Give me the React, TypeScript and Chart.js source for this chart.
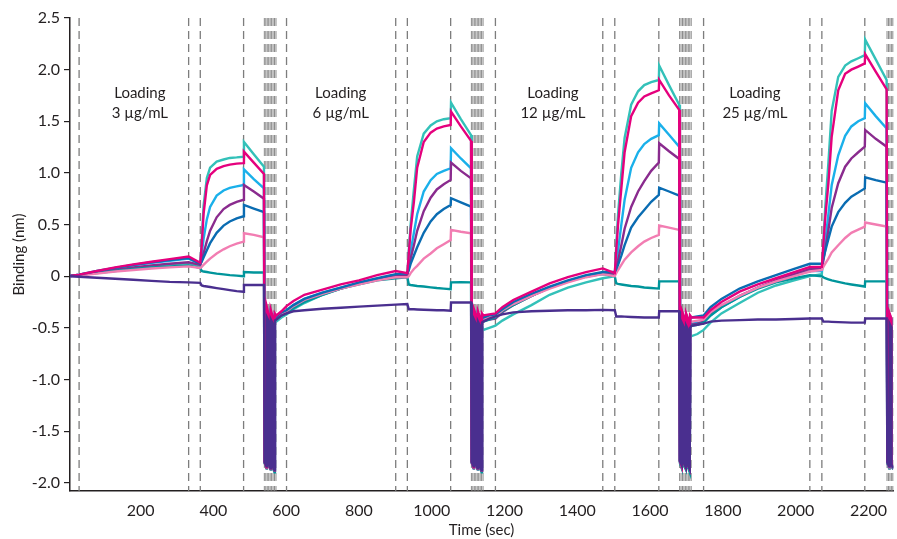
import React, { useEffect, useRef } from 'react';
import { Chart, registerables } from 'chart.js';
Chart.register(...registerables);

// Shared time axis (sec): per cycle = loading(8), baseline end(1), association(9), dissociation(3), regeneration(12), post-regen(1)
const TIME = [
  0, 31, 80, 130, 180, 230, 280, 332, 364, 368, 373, 382, 391, 409, 428, 445, 464, 483, 484, 511, 539,
  541, 546, 547, 551, 552, 557, 558, 562, 563, 568, 569, 573, 587,
  601, 620, 650, 700, 750, 800, 850, 901, 933, 937, 942, 951, 960, 978, 997, 1014, 1033, 1052, 1053, 1080, 1108,
  1110, 1115, 1116, 1120, 1121, 1126, 1127, 1131, 1132, 1137, 1138, 1142, 1158,
  1175, 1194, 1224, 1274, 1324, 1374, 1424, 1470, 1503, 1507, 1512, 1521, 1530, 1548, 1567, 1584, 1603, 1624, 1625, 1652, 1680,
  1682, 1687, 1688, 1692, 1693, 1698, 1699, 1703, 1704, 1709, 1710, 1714, 1730,
  1747, 1766, 1796, 1846, 1896, 1946, 1996, 2039, 2072, 2076, 2081, 2090, 2099, 2117, 2136, 2153, 2172, 2190, 2191, 2220, 2250,
  2252, 2257, 2258, 2262, 2263, 2268,
];

const TURQUOISE = [
  0, 0.01, 0.035, 0.06, 0.08, 0.1, 0.115, 0.125, 0.1,
  0.35, 0.68, 0.95, 1.05, 1.11, 1.13, 1.145, 1.15, 1.157, 1.3, 1.18, 1.06,
  -1.8, -1.84, -0.38, -0.42, -1.81, -1.85, -0.4, -0.44, -1.83, -1.87, -0.42, -0.44, -0.4,
  -0.37, -0.32, -0.26, -0.18, -0.12, -0.07, -0.035, -0.01, 0.0,
  0.25, 0.5, 0.84, 1.16, 1.38, 1.46, 1.5, 1.52, 1.53, 1.68, 1.52, 1.367,
  -1.79, -1.84, -0.4, -0.46, -1.81, -1.86, -0.44, -0.5, -1.83, -1.88, -0.48, -0.52, -0.5,
  -0.48, -0.43, -0.37, -0.28, -0.18, -0.11, -0.06, -0.02, 0.0,
  0.3, 0.6, 1.0, 1.34, 1.66, 1.79, 1.85, 1.88, 1.9, 2.04, 1.85, 1.66,
  -1.78, -1.83, -0.48, -0.54, -1.8, -1.85, -0.52, -0.58, -1.82, -1.87, -0.56, -0.58, -0.56,
  -0.52, -0.45, -0.36, -0.26, -0.16, -0.09, -0.04, 0.0, 0.02,
  0.3, 0.65, 1.1, 1.6, 1.93, 2.04, 2.08, 2.11, 2.14, 2.29, 2.1, 1.9,
  -1.78, -1.84, -0.52, -0.56, -1.8, -1.86,
];

const MAGENTA = [
  0, 0.015, 0.05, 0.085, 0.115, 0.14, 0.165, 0.19, 0.13,
  0.3, 0.6, 0.88, 0.98, 1.04, 1.065, 1.08, 1.09, 1.095, 1.206, 1.1, 0.99,
  -1.8, -1.85, -0.3, -0.36, -1.82, -1.86, -0.33, -0.38, -1.84, -1.88, -0.36, -0.38, -0.34,
  -0.29, -0.24, -0.18, -0.13, -0.08, -0.04, 0.01, 0.05, 0.03,
  0.22, 0.45, 0.72, 1.05, 1.3, 1.39, 1.43, 1.45, 1.464, 1.593, 1.45, 1.31,
  -1.8, -1.85, -0.32, -0.36, -1.82, -1.86, -0.34, -0.38, -1.84, -1.88, -0.36, -0.38, -0.37,
  -0.36, -0.3, -0.23, -0.15, -0.07, -0.01, 0.04, 0.075, 0.03,
  0.25, 0.5, 0.85, 1.2, 1.55, 1.68, 1.74, 1.77, 1.8, 1.9, 1.75, 1.61,
  -1.79, -1.84, -0.34, -0.38, -1.81, -1.85, -0.36, -0.4, -1.83, -1.87, -0.38, -0.4, -0.4,
  -0.4, -0.33, -0.25, -0.15, -0.08, -0.02, 0.04, 0.09, 0.09,
  0.3, 0.55, 0.9, 1.35, 1.8, 1.96, 2.0, 2.03, 2.06, 2.15, 1.98, 1.81,
  -1.79, -1.84, -0.36, -0.4, -1.81, -1.85,
];

const LIGHT_BLUE = [
  0, 0.015, 0.045, 0.075, 0.105, 0.13, 0.15, 0.17, 0.12,
  0.22, 0.36, 0.55, 0.67, 0.78, 0.83, 0.855, 0.87, 0.883, 1.035, 0.94, 0.85,
  -1.81, -1.85, -0.34, -0.38, -1.83, -1.86, -0.36, -0.4, -1.84, -1.88, -0.38, -0.4, -0.37,
  -0.33, -0.28, -0.22, -0.16, -0.11, -0.07, -0.03, 0.01, 0.02,
  0.12, 0.24, 0.42, 0.6, 0.82, 0.93, 0.99, 1.02, 1.045, 1.24, 1.14, 1.045,
  -1.8, -1.85, -0.36, -0.4, -1.82, -1.86, -0.38, -0.42, -1.84, -1.88, -0.4, -0.42, -0.41,
  -0.4, -0.34, -0.27, -0.19, -0.11, -0.05, 0.0, 0.03, 0.02,
  0.12, 0.25, 0.5, 0.74, 1.05, 1.2, 1.28, 1.33, 1.366, 1.48, 1.37, 1.254,
  -1.79, -1.84, -0.4, -0.44, -1.81, -1.85, -0.42, -0.46, -1.83, -1.87, -0.44, -0.46, -0.45,
  -0.45, -0.38, -0.3, -0.2, -0.11, -0.05, 0.01, 0.05, 0.05,
  0.18, 0.32, 0.6, 0.88, 1.17, 1.36, 1.45, 1.5, 1.53, 1.674, 1.55, 1.43,
  -1.8, -1.85, -0.42, -0.46, -1.82, -1.86,
];

const PURPLE = [
  0, 0.01, 0.035, 0.06, 0.085, 0.105, 0.12, 0.135, 0.11,
  0.15, 0.22, 0.34, 0.44, 0.57, 0.65, 0.69, 0.72, 0.74, 0.883, 0.82, 0.75,
  -1.81, -1.86, -0.35, -0.39, -1.83, -1.87, -0.37, -0.41, -1.85, -1.89, -0.39, -0.41, -0.38,
  -0.35, -0.29, -0.23, -0.17, -0.12, -0.07, -0.03, 0.0, 0.01,
  0.08, 0.17, 0.3, 0.44, 0.63, 0.76, 0.84, 0.89, 0.932, 1.1, 1.02, 0.948,
  -1.81, -1.86, -0.37, -0.41, -1.83, -1.87, -0.39, -0.43, -1.85, -1.89, -0.41, -0.43, -0.42,
  -0.41, -0.35, -0.28, -0.19, -0.11, -0.05, -0.005, 0.03, 0.02,
  0.08, 0.15, 0.3, 0.46, 0.67, 0.82, 0.92, 1.02, 1.1, 1.287, 1.21, 1.135,
  -1.8, -1.85, -0.41, -0.45, -1.82, -1.86, -0.43, -0.47, -1.84, -1.88, -0.45, -0.47, -0.46,
  -0.44, -0.37, -0.29, -0.19, -0.11, -0.04, 0.02, 0.07, 0.07,
  0.15, 0.25, 0.45, 0.66, 0.9, 1.06, 1.14, 1.2, 1.254, 1.416, 1.33, 1.254,
  -1.81, -1.86, -0.43, -0.47, -1.83, -1.87,
];

const DARK_BLUE = [
  0, 0.015, 0.05, 0.08, 0.11, 0.135, 0.155, 0.175, 0.12,
  0.14, 0.18, 0.25, 0.32, 0.42, 0.49, 0.53, 0.56, 0.58, 0.69, 0.655, 0.62,
  -1.8, -1.84, -0.33, -0.37, -1.82, -1.85, -0.35, -0.39, -1.84, -1.87, -0.37, -0.39, -0.35,
  -0.33, -0.28, -0.22, -0.16, -0.11, -0.06, -0.02, 0.02, 0.03,
  0.06, 0.12, 0.2, 0.28, 0.42, 0.53, 0.6, 0.65, 0.69, 0.755, 0.715, 0.674,
  -1.8, -1.84, -0.34, -0.38, -1.82, -1.85, -0.36, -0.4, -1.84, -1.87, -0.38, -0.4, -0.38,
  -0.37, -0.32, -0.25, -0.17, -0.1, -0.04, 0.01, 0.04, 0.04,
  0.07, 0.11, 0.2, 0.3, 0.47, 0.57, 0.64, 0.72, 0.787, 0.857, 0.82, 0.78,
  -1.79, -1.83, -0.35, -0.39, -1.81, -1.84, -0.37, -0.41, -1.83, -1.86, -0.39, -0.4, -0.39,
  -0.38, -0.3, -0.22, -0.12, -0.05, 0.01, 0.07, 0.12, 0.12,
  0.17, 0.24, 0.36, 0.48, 0.62, 0.71, 0.77, 0.81, 0.85, 0.958, 0.93, 0.906,
  -1.8, -1.84, -0.37, -0.41, -1.82, -1.85,
];

const PINK = [
  0, 0.005, 0.025, 0.045, 0.06, 0.075, 0.085, 0.095, 0.08,
  0.09, 0.11, 0.14, 0.17, 0.22, 0.26, 0.29, 0.315, 0.335, 0.416, 0.4, 0.377,
  -1.8, -1.85, -0.32, -0.37, -1.82, -1.86, -0.34, -0.39, -1.84, -1.88, -0.37, -0.39, -0.36,
  -0.34, -0.29, -0.23, -0.17, -0.12, -0.08, -0.04, -0.01, -0.01,
  0.0, 0.03, 0.07, 0.1, 0.17, 0.22, 0.27, 0.31, 0.35, 0.448, 0.43, 0.416,
  -1.8, -1.85, -0.34, -0.39, -1.82, -1.86, -0.36, -0.41, -1.84, -1.88, -0.39, -0.41, -0.4,
  -0.39, -0.33, -0.27, -0.19, -0.12, -0.06, -0.01, 0.02, 0.0,
  0.03, 0.06, 0.11, 0.16, 0.23, 0.29, 0.335, 0.37, 0.4, 0.49, 0.47, 0.448,
  -1.79, -1.84, -0.37, -0.42, -1.81, -1.85, -0.39, -0.44, -1.83, -1.87, -0.42, -0.44, -0.43,
  -0.42, -0.35, -0.28, -0.19, -0.11, -0.05, 0.0, 0.045, 0.06,
  0.09, 0.12, 0.17, 0.23, 0.3, 0.37, 0.42, 0.45, 0.48, 0.52, 0.5, 0.48,
  -1.8, -1.85, -0.4, -0.44, -1.82, -1.86,
];

const DARK_TEAL = [
  0, 0.01, 0.03, 0.05, 0.07, 0.085, 0.095, 0.105, 0.08,
  0.05, 0.045, 0.04, 0.035, 0.025, 0.018, 0.01, 0.005, 0.0, 0.04, 0.035, 0.035,
  -1.81, -1.86, -0.36, -0.4, -1.83, -1.87, -0.38, -0.42, -1.85, -1.9, -0.4, -0.42, -0.38,
  -0.36, -0.31, -0.25, -0.18, -0.12, -0.08, -0.04, -0.02, -0.01,
  -0.08, -0.085, -0.09, -0.095, -0.1, -0.108, -0.115, -0.12, -0.125, -0.06, -0.058, -0.06,
  -1.81, -1.86, -0.38, -0.42, -1.83, -1.87, -0.4, -0.44, -1.85, -1.9, -0.42, -0.44, -0.42,
  -0.4, -0.34, -0.28, -0.19, -0.11, -0.05, 0.0, 0.02, 0.0,
  -0.07, -0.075, -0.08, -0.085, -0.095, -0.1, -0.11, -0.115, -0.12, -0.05, -0.05, -0.05,
  -1.81, -1.86, -0.42, -0.46, -1.83, -1.87, -0.44, -0.48, -1.85, -1.9, -0.46, -0.48, -0.47,
  -0.45, -0.38, -0.3, -0.2, -0.12, -0.06, -0.02, 0.01, 0.0,
  -0.01, -0.02, -0.03, -0.04, -0.055, -0.07, -0.08, -0.09, -0.1, -0.05, -0.05, -0.05,
  -1.81, -1.86, -0.44, -0.48, -1.83, -1.87,
];

const INDIGO = [
  0, -0.005, -0.015, -0.025, -0.035, -0.045, -0.055, -0.06, -0.065,
  -0.09, -0.095, -0.1, -0.105, -0.115, -0.125, -0.135, -0.145, -0.15, -0.085, -0.085, -0.085,
  -1.8, -1.84, -0.4, -0.43, -1.82, -1.86, -0.42, -0.45, -1.84, -1.88, -0.43, -0.42, -0.38,
  -0.36, -0.34, -0.33, -0.315, -0.305, -0.295, -0.285, -0.275, -0.27,
  -0.32, -0.32, -0.32, -0.322, -0.325, -0.327, -0.33, -0.33, -0.335, -0.255, -0.255, -0.255,
  -1.8, -1.84, -0.42, -0.45, -1.82, -1.86, -0.44, -0.47, -1.84, -1.88, -0.45, -0.44, -0.41,
  -0.39, -0.37, -0.35, -0.34, -0.335, -0.33, -0.33, -0.326, -0.33,
  -0.39, -0.39, -0.39, -0.392, -0.395, -0.397, -0.4, -0.4, -0.4, -0.34, -0.34, -0.34,
  -1.79, -1.83, -0.46, -0.49, -1.81, -1.85, -0.48, -0.51, -1.83, -1.87, -0.5, -0.48, -0.47,
  -0.46, -0.44, -0.43, -0.425, -0.42, -0.42, -0.415, -0.41, -0.41,
  -0.44, -0.44, -0.44, -0.442, -0.445, -0.447, -0.45, -0.45, -0.45, -0.41, -0.41, -0.41,
  -1.8, -1.84, -0.46, -0.49, -1.82, -1.86,
];

const SERIES_NAMES = ['Indigo', 'Magenta', 'Dark blue', 'Pink', 'Dark teal', 'Purple', 'Light blue', 'Turquoise'];
const SERIES_VALUES = [INDIGO, MAGENTA, DARK_BLUE, PINK, DARK_TEAL, PURPLE, LIGHT_BLUE, TURQUOISE];
const SERIES_COLORS = ['#4a2f8f', '#e5007d', '#0a6cb2', '#f27db2', '#00959b', '#8a2b8e', '#1ab0ea', '#33c1b9'];

// Step boundaries (sec)
const STEP_LINES = [31, 332, 364, 483, 601, 901, 933, 1052, 1175, 1470, 1503, 1624, 1747, 2039, 2072, 2190];
const REGEN_LINES = [
  540, 544, 548, 552, 556, 560, 564, 568, 572,
  1109, 1113, 1117, 1121, 1125, 1129, 1133, 1137, 1141,
  1681, 1685, 1689, 1693, 1697, 1701, 1705, 1709, 1713,
  2251, 2255, 2259, 2263, 2267,
];

const X_TICKS = [200, 400, 600, 800, 1000, 1200, 1400, 1600, 1800, 2000, 2200];
const Y_TICKS = [-2, -1.5, -1, -0.5, 0, 0.5, 1, 1.5, 2, 2.5];

const LOAD_LABEL_X = [198, 750, 1333, 1888];
const LOAD_LABEL_TEXT = ['3 µg/mL', '6 µg/mL', '12 µg/mL', '25 µg/mL'];
const LOAD_LABEL_Y = [1.774, 1.583];

const TEXT = '#231f20';
const FONT = 'Lato, "Open Sans", sans-serif';

export default function App() {
  const ref = useRef<HTMLCanvasElement>(null);
  useEffect(() => {
    document.body.style.margin = '0';
    const linesPlugin = {
      id: 'stepLines',
      beforeDatasetsDraw(chart: any) {
        const { ctx, chartArea, scales } = chart;
        ctx.save();
        ctx.strokeStyle = '#7d7d7d';
        ctx.setLineDash([8, 5]);
        ctx.lineWidth = 1.3;
        for (const t of STEP_LINES) {
          const x = scales.x.getPixelForValue(t);
          ctx.beginPath();
          ctx.moveTo(x, chartArea.top);
          ctx.lineTo(x, chartArea.bottom);
          ctx.stroke();
        }
        ctx.lineWidth = 0.9;
        for (const t of REGEN_LINES) {
          const x = scales.x.getPixelForValue(t);
          ctx.beginPath();
          ctx.moveTo(x, chartArea.top);
          ctx.lineTo(x, chartArea.bottom);
          ctx.stroke();
        }
        ctx.restore();
      },
      afterDatasetsDraw(chart: any) {
        const { ctx, scales } = chart;
        ctx.save();
        ctx.fillStyle = TEXT;
        ctx.font = `15px ${FONT}`;
        ctx.textAlign = 'center';
        ctx.textBaseline = 'middle';
        LOAD_LABEL_X.forEach((t, i) => {
          const x = scales.x.getPixelForValue(t);
          ctx.fillText('Loading', x, scales.y.getPixelForValue(LOAD_LABEL_Y[0]));
          ctx.fillText(LOAD_LABEL_TEXT[i], x, scales.y.getPixelForValue(LOAD_LABEL_Y[1]));
        });
        ctx.restore();
      },
    };

    const chart = new Chart(ref.current!, {
      type: 'line',
      data: {
        datasets: SERIES_VALUES.map((vals, k) => ({
          label: SERIES_NAMES[k],
          data: TIME.map((t, i) => ({ x: t, y: vals[i] })),
          borderColor: SERIES_COLORS[k],
          backgroundColor: SERIES_COLORS[k],
          borderWidth: 2.4,
          pointRadius: 0,
          tension: 0,
          fill: false,
          order: k,
        })),
      },
      options: {
        animation: false,
        responsive: false,
        devicePixelRatio: 1,
        layout: { padding: { top: 18, right: 0, left: 0, bottom: 0 } },
        plugins: { legend: { display: false }, tooltip: { enabled: false } },
        scales: {
          x: {
            type: 'linear',
            min: 6,
            max: 2268,
            afterBuildTicks: (s: any) => { s.ticks = X_TICKS.map((v) => ({ value: v })); },
            afterFit: (s: any) => { s.height = 48; },
            grid: { drawOnChartArea: false, drawTicks: false },
            border: { display: true, color: TEXT, width: 1.5 },
            ticks: {
              color: TEXT,
              font: { family: FONT, size: 16 },
              padding: 10,
              maxRotation: 0,
              autoSkip: false,
              callback: (v: any) => String(v),
            },
            title: { display: true, text: 'Time (sec)', color: TEXT, font: { family: FONT, size: 15 }, padding: { top: 0, bottom: 0 } },
          },
          y: {
            min: -2.08,
            max: 2.5,
            afterBuildTicks: (s: any) => { s.ticks = Y_TICKS.map((v) => ({ value: v })); },
            afterFit: (s: any) => { s.width = 70; },
            grid: { drawOnChartArea: false, drawTicks: true, tickLength: 6, color: TEXT, lineWidth: 1.2 },
            border: { display: true, color: TEXT, width: 1.5 },
            ticks: {
              color: TEXT,
              font: { family: FONT, size: 16 },
              padding: 4,
              callback: (v: any) => (Number(v) === 0 ? '0' : Number(v).toFixed(1)),
            },
            title: { display: true, text: 'Binding (nm)', color: TEXT, font: { family: FONT, size: 15 }, padding: { top: 10, bottom: 0 } },
          },
        },
      },
      plugins: [linesPlugin],
    } as any);
    return () => chart.destroy();
  }, []);

  return (
    <div style={{ position: 'fixed', left: 0, top: 0, width: 897, height: 539, background: '#fff' }}>
      <canvas ref={ref} width={897} height={539} style={{ width: 897, height: 539, display: 'block' }} />
    </div>
  );
}
